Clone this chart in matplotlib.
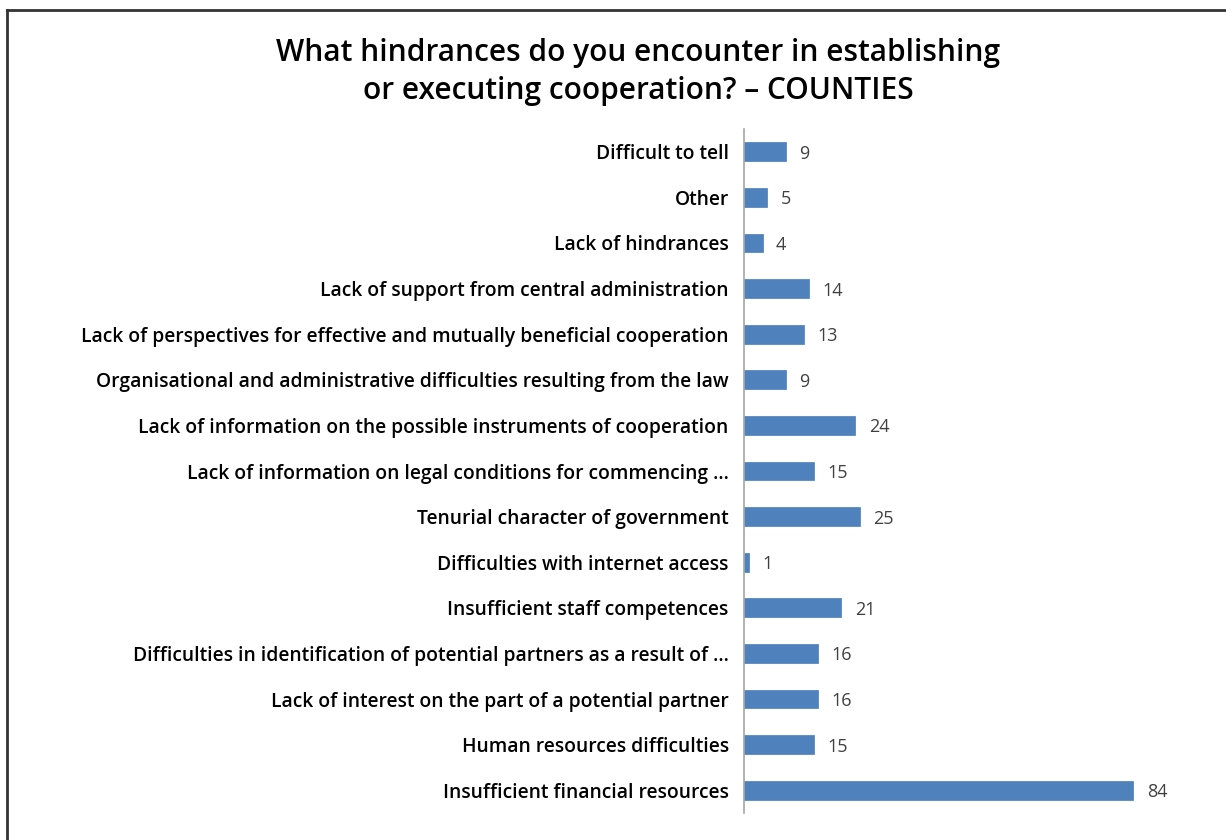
import matplotlib.pyplot as plt
from matplotlib.lines import Line2D

categories = [
    "Insufficient financial resources",
    "Human resources difficulties",
    "Lack of interest on the part of a potential partner",
    "Difficulties in identification of potential partners as a result of \u2026",
    "Insufficient staff competences",
    "Difficulties with internet access",
    "Tenurial character of government",
    "Lack of information on legal conditions for commencing \u2026",
    "Lack of information on the possible instruments of cooperation",
    "Organisational and administrative difficulties resulting from the law",
    "Lack of perspectives for effective and mutually beneficial cooperation",
    "Lack of support from central administration",
    "Lack of hindrances",
    "Other",
    "Difficult to tell",
]
values = [84, 15, 16, 16, 21, 1, 25, 15, 24, 9, 13, 14, 4, 5, 9]

title_lines = ["What hindrances do you encounter in establishing",
               "or executing cooperation? \u2013 COUNTIES"]

plt.rcParams['font.family'] = ['Open Sans', 'DejaVu Sans']

W, H = 1226, 840
fig = plt.figure(figsize=(W / 100, H / 100), dpi=100)

# axes placed in pixel terms
x0, x1 = 744, 1161
y_top, y_bot = 129, 813
ax = fig.add_axes([x0 / W, 1 - y_bot / H, (x1 - x0) / W, (y_bot - y_top) / H])

pos = range(len(categories))
ax.barh(pos, values, height=0.41, color='#4f81bd', edgecolor='#4a7ebb', linewidth=0.5)
ax.set_xlim(0, 90)
ax.set_ylim(-0.5, len(categories) - 0.5)
ax.set_yticks(list(pos))
ax.set_yticklabels(categories, fontsize=13.9, fontweight='semibold', color='black')
ax.tick_params(axis='y', length=0, pad=11)
ax.set_xticks([])
for s in ['top', 'right', 'bottom']:
    ax.spines[s].set_visible(False)
ax.spines['left'].set_color('#a6a6a6')
ax.spines['left'].set_linewidth(1.2)

for i, v in enumerate(values):
    ax.text(v + 2.9, i, str(v), va='center_baseline', ha='left', fontsize=13,
            color='#404040')

for k, line in enumerate(title_lines):
    fig.text(638 / W, 1 - (50 + 38 * k) / H, line, ha='center', va='center_baseline',
             fontsize=21.5, fontweight='semibold')

# frame lines (left and top)
fig.add_artist(Line2D([7 / W, 7 / W], [0, 1 - 10 / H], transform=fig.transFigure,
                      color='#333333', linewidth=2))
fig.add_artist(Line2D([7 / W, 1], [1 - 10 / H, 1 - 10 / H], transform=fig.transFigure,
                      color='#333333', linewidth=2))

fig.savefig('out.png', dpi=100)
